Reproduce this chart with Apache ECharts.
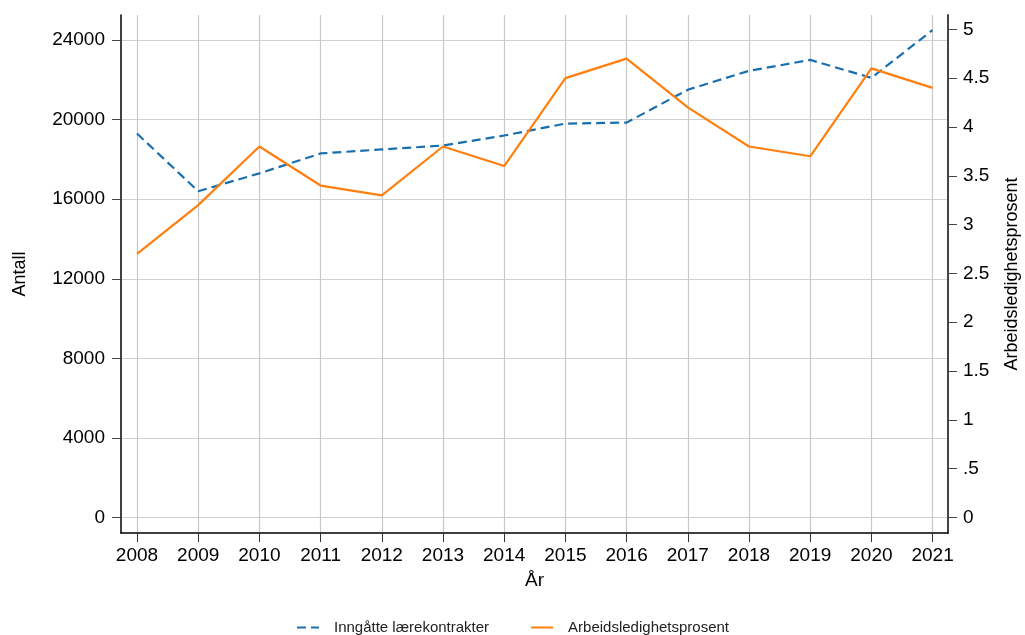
<!DOCTYPE html>
<html>
<head>
<meta charset="utf-8">
<title>Lærekontrakter og arbeidsledighet</title>
<script src="https://cdn.jsdelivr.net/npm/echarts@6/dist/echarts.min.js"></script>
<style>
  html, body { margin: 0; padding: 0; background: #fff; }
  #chart { width: 1025px; height: 635px; }
</style>
</head>
<body>
<div id="chart"></div>
<script>
// data
var years = [2008, 2009, 2010, 2011, 2012, 2013, 2014, 2015, 2016, 2017, 2018, 2019, 2020, 2021];
var kontrakter = [19300, 16400, 17300, 18300, 18500, 18700, 19200, 19800, 19850, 21500, 22450, 23000, 22100, 24500];
var ledighet = [2.7, 3.2, 3.8, 3.4, 3.3, 3.8, 3.6, 4.5, 4.7, 4.2, 3.8, 3.7, 4.6, 4.4];

// tick labels
var leftTicks = [0, 4000, 8000, 12000, 16000, 20000, 24000];
var rightTicks = [0, 0.5, 1, 1.5, 2, 2.5, 3, 3.5, 4, 4.5, 5];

var blue = "#1a6fae";
var orange = "#ff7f0e";
var fontFamily = "Liberation Sans, Arial, sans-serif";

var kontrakterData = years.map(function (y, i) { return [y, kontrakter[i]]; });
var ledighetData = years.map(function (y, i) { return [y, ledighet[i]]; });

var option = {
  animation: false,
  textStyle: { fontFamily: fontFamily },
  grid: {
    left: 121,
    right: 77,
    top: 15,
    bottom: 102,
    outerBoundsMode: "none"
  },
  legend: {
    top: 615,
    left: "center",
    itemWidth: 22,
    itemHeight: 10,
    itemGap: 41,
    // hide the circle that line series put in the legend icon
    itemStyle: { opacity: 0 },
    textStyle: { fontSize: 15, color: "#222", padding: [0, 0, 0, 10] },
    data: ["Inngåtte lærekontrakter", "Arbeidsledighetsprosent"]
  },
  xAxis: {
    type: "value",
    min: 2007.7385,
    max: 2021.252,
    name: "År",
    nameLocation: "middle",
    nameGap: 38,
    nameTextStyle: { fontSize: 19, color: "#000" },
    axisLine: { show: true, onZero: false, lineStyle: { color: "#000", width: 1.5 } },
    axisTick: { show: true, customValues: years, length: 9, lineStyle: { color: "#333" } },
    axisLabel: {
      customValues: years,
      margin: 13,
      fontSize: 19,
      color: "#000",
      formatter: function (v) { return String(v); }
    },
    splitLine: { show: true, lineStyle: { color: "#c8c8c8", width: 1.2 } }
  },
  yAxis: [
    {
      type: "value",
      position: "left",
      min: -774,
      max: 25257,
      name: "Antall",
      nameLocation: "middle",
      nameRotate: 90,
      nameGap: 92,
      nameTextStyle: { fontSize: 18, color: "#000" },
      axisLine: { show: true, onZero: false, lineStyle: { color: "#000", width: 1.5 } },
      axisTick: { show: true, customValues: leftTicks, length: 9, lineStyle: { color: "#444" } },
      axisLabel: {
        customValues: leftTicks,
        margin: 16,
        fontSize: 19,
        color: "#000",
        formatter: function (v) { return String(v); }
      },
      splitLine: { show: true, lineStyle: { color: "#cfcfcf", width: 1.2 } }
    },
    {
      type: "value",
      position: "right",
      min: -0.158,
      max: 5.1465,
      name: "Arbeidsledighetsprosent",
      nameLocation: "middle",
      nameRotate: 90,
      nameGap: 55,
      nameTextStyle: { fontSize: 18, color: "#000" },
      axisLine: { show: true, onZero: false, lineStyle: { color: "#444", width: 2 } },
      axisTick: { show: true, customValues: rightTicks, length: 9, lineStyle: { color: "#444" } },
      axisLabel: {
        customValues: rightTicks,
        margin: 15,
        fontSize: 19,
        color: "#000",
        // Stata style: .5 rather than 0.5
        formatter: function (v) { return v === 0.5 ? ".5" : String(v); }
      },
      splitLine: { show: false }
    }
  ],
  series: [
    {
      name: "Inngåtte lærekontrakter",
      type: "line",
      yAxisIndex: 0,
      symbol: "none",
      lineStyle: { color: blue, width: 2.2, type: [9, 5] },
      itemStyle: { color: blue },
      data: kontrakterData
    },
    {
      name: "Arbeidsledighetsprosent",
      type: "line",
      yAxisIndex: 1,
      symbol: "none",
      lineStyle: { color: orange, width: 2.2 },
      itemStyle: { color: orange },
      data: ledighetData
    }
  ]
};

var chart = echarts.init(document.getElementById("chart"));
chart.setOption(option);
</script>
</body>
</html>
